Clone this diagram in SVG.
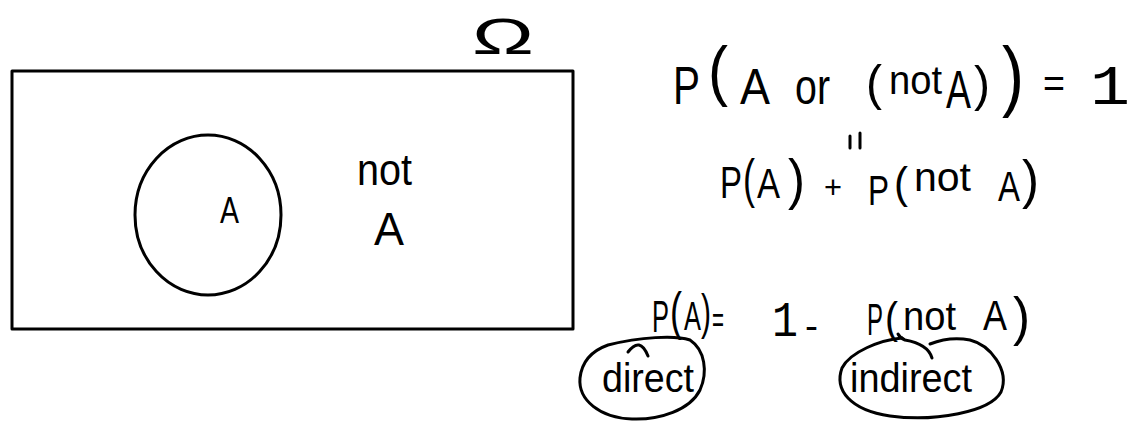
<svg xmlns="http://www.w3.org/2000/svg" width="1136" height="423" viewBox="0 0 1136 423">
<style>
.t{font-family:"Liberation Sans",Arial,sans-serif;fill:#000}
.m{font-family:"Liberation Mono","Courier New",monospace;fill:#000}
.s{fill:none;stroke:#000;stroke-width:3;stroke-linecap:round;stroke-linejoin:round}
</style>
<rect width="1136" height="423" fill="#fff"/>
<g id="omega-box">
<rect class="s" x="12" y="71" width="561" height="258"/>
<text class="t" x="472" y="54" font-size="50" textLength="62" lengthAdjust="spacingAndGlyphs">Ω</text>
</g>
<g id="event-A">
<ellipse class="s" cx="208" cy="215" rx="73" ry="80"/>
<text class="t" x="220" y="223" font-size="36" textLength="19" lengthAdjust="spacingAndGlyphs">A</text>
</g>
<g id="not-A">
<text class="t" x="357" y="185" font-size="44" textLength="55" lengthAdjust="spacingAndGlyphs">not</text>
<text class="t" x="374" y="245" font-size="46" textLength="30" lengthAdjust="spacingAndGlyphs">A</text>
</g>
<g id="eq1">
<text class="t" x="673" y="104" font-size="54" textLength="27" lengthAdjust="spacingAndGlyphs">P</text>
<text class="t" x="708" y="93" font-size="66" textLength="20" lengthAdjust="spacingAndGlyphs">(</text>
<text class="t" x="740" y="104" font-size="50" textLength="30" lengthAdjust="spacingAndGlyphs">A</text>
<text class="t" x="795" y="104" font-size="50" textLength="35" lengthAdjust="spacingAndGlyphs">or</text>
<text class="t" x="866" y="100" font-size="50" textLength="16" lengthAdjust="spacingAndGlyphs">(</text>
<text class="t" x="889" y="94" font-size="40" textLength="53" lengthAdjust="spacingAndGlyphs">not</text>
<text class="t" x="946" y="108" font-size="54" textLength="25" lengthAdjust="spacingAndGlyphs">A</text>
<text class="t" x="974" y="101" font-size="50" textLength="16" lengthAdjust="spacingAndGlyphs">)</text>
<text class="t" x="1002" y="102" font-size="78" textLength="22" lengthAdjust="spacingAndGlyphs">)</text>
<text class="t" x="1043" y="97" font-size="40" textLength="22" lengthAdjust="spacingAndGlyphs">=</text>
<text class="m" x="1090" y="104" font-size="56" textLength="40" lengthAdjust="spacingAndGlyphs">1</text>
</g>
<g id="equals-vertical">
<line class="s" x1="850" y1="136" x2="850" y2="148"/>
<line class="s" x1="860" y1="133" x2="860" y2="148"/>
</g>
<g id="eq2">
<text class="t" x="720" y="198" font-size="44" textLength="22" lengthAdjust="spacingAndGlyphs">P</text>
<text class="t" x="743" y="197" font-size="54" textLength="12" lengthAdjust="spacingAndGlyphs">(</text>
<text class="t" x="757" y="198" font-size="42" textLength="23" lengthAdjust="spacingAndGlyphs">A</text>
<text class="t" x="788" y="198" font-size="56" textLength="17" lengthAdjust="spacingAndGlyphs">)</text>
<text class="t" x="824" y="198" font-size="32" textLength="18" lengthAdjust="spacingAndGlyphs">+</text>
<text class="t" x="868" y="205" font-size="42" textLength="21" lengthAdjust="spacingAndGlyphs">P</text>
<text class="t" x="894" y="198" font-size="44" textLength="14" lengthAdjust="spacingAndGlyphs">(</text>
<text class="t" x="914" y="191" font-size="40" textLength="57" lengthAdjust="spacingAndGlyphs">not</text>
<text class="t" x="998" y="201" font-size="42" textLength="22" lengthAdjust="spacingAndGlyphs">A</text>
<text class="t" x="1022" y="198" font-size="54" textLength="17" lengthAdjust="spacingAndGlyphs">)</text>
</g>
<g id="eq3">
<text class="t" x="652" y="332" font-size="44" textLength="17" lengthAdjust="spacingAndGlyphs">P</text>
<text class="t" x="670" y="329" font-size="52" textLength="12" lengthAdjust="spacingAndGlyphs">(</text>
<text class="t" x="684" y="330" font-size="40" textLength="17" lengthAdjust="spacingAndGlyphs">A</text>
<text class="t" x="701" y="329" font-size="50" textLength="10" lengthAdjust="spacingAndGlyphs">)</text>
<text class="t" x="712" y="332" font-size="36" textLength="12" lengthAdjust="spacingAndGlyphs">=</text>
<text class="m" x="772" y="336" font-size="50" textLength="26" lengthAdjust="spacingAndGlyphs">1</text>
<text class="t" x="805" y="338" font-size="36" textLength="13" lengthAdjust="spacingAndGlyphs">-</text>
<text class="t" x="867" y="335" font-size="44" textLength="16" lengthAdjust="spacingAndGlyphs">P</text>
<text class="t" x="885" y="333" font-size="44" textLength="13" lengthAdjust="spacingAndGlyphs">(</text>
<text class="t" x="903" y="330" font-size="40" textLength="53" lengthAdjust="spacingAndGlyphs">not</text>
<text class="t" x="983" y="330" font-size="42" textLength="24" lengthAdjust="spacingAndGlyphs">A</text>
<text class="t" x="1013" y="335" font-size="54" textLength="17" lengthAdjust="spacingAndGlyphs">)</text>
</g>
<g id="direct">
<path class="s" d="M 608 345 C 640 337 675 335 690 340 C 705 350 708 372 700 390 C 690 410 660 420 632 419 C 600 418 578 400 580 378 C 582 360 594 350 608 345 Z"/>
<text class="t" x="602" y="392" font-size="40" textLength="92" lengthAdjust="spacingAndGlyphs">direct</text>
</g>
<g id="indirect">
<path class="s" d="M 902 338 C 880 340 850 352 842 368 C 834 390 850 410 890 416 C 935 422 990 412 1001 392 C 1010 370 990 345 970 340 C 955 337 940 340 930 344"/>
<text class="t" x="850" y="392" font-size="40" textLength="122" lengthAdjust="spacingAndGlyphs">indirect</text>
</g>
<g id="connectors">
<path class="s" d="M 628 352 Q 640 336 648 356"/>
<path class="s" d="M 898 334 Q 900 338 905 340 Q 928 344 932 358"/>
</g>
</svg>
